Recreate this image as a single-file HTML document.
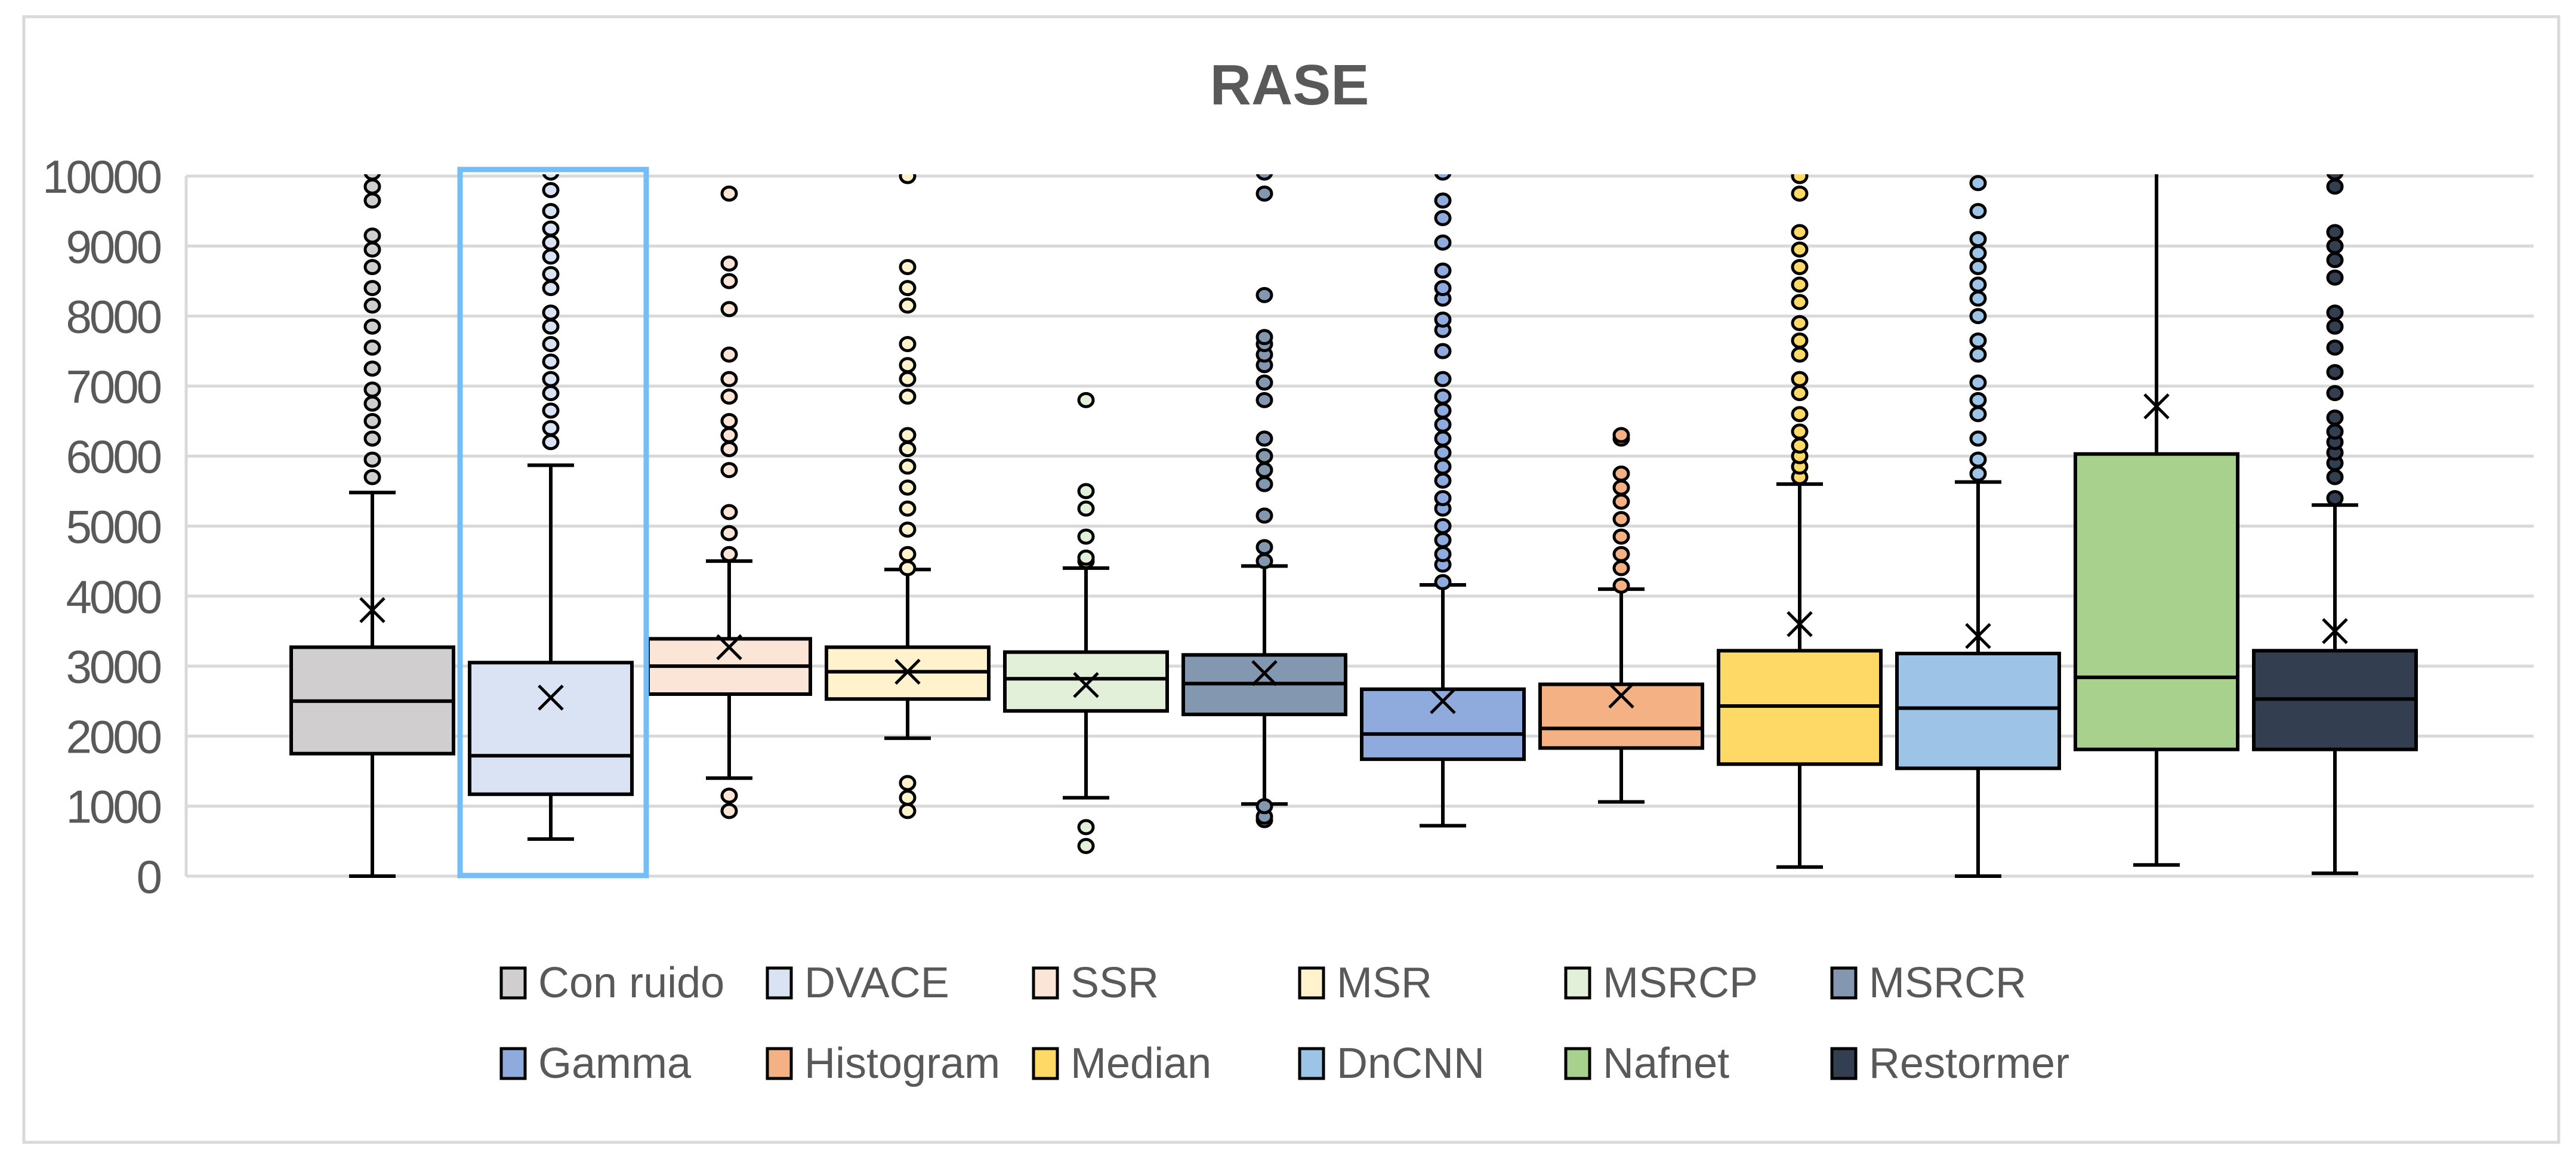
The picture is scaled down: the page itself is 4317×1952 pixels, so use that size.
<!DOCTYPE html>
<html><head><meta charset="utf-8"><style>
html,body{margin:0;padding:0;background:#fff;}
svg{display:block;font-family:"Liberation Sans",sans-serif;}
</style></head><body>
<svg id="chart" width="4317" height="1952" viewBox="0 0 4317 1952" xmlns="http://www.w3.org/2000/svg">
<rect x="40" y="28" width="4248" height="1886" fill="#fff" stroke="#d9d9d9" stroke-width="5"/>
<text x="2161" y="175" text-anchor="middle" font-size="96" font-weight="bold" fill="#595959">RASE</text>
<g id="grid"></g>
<g id="yticks"></g>
<defs><clipPath id="pc"><rect x="300" y="292" width="3960" height="1200"/></clipPath></defs>
<g id="boxes" clip-path="url(#pc)"></g>
<rect x="771" y="284" width="312" height="1183" fill="none" stroke="#74bdf7" stroke-width="9"/>
<g id="legend"></g>
</svg>
<script>
const categories=["Con ruido","DVACE","SSR","MSR","MSRCP","MSRCR","Gamma","Histogram","Median","DnCNN","Nafnet","Restormer"];
const colors=["#d0cece","#dae3f3","#fbe5d6","#fff2cc","#e2f0d9","#8497b0","#8faadc","#f4b183","#ffd966","#9dc3e6","#a9d18e","#333f50"];
const mins=[0,530,1400,1970,1120,1030,720,1060,130,0,160,40];
const q1s=[1750,1170,2600,2530,2360,2310,1670,1830,1600,1540,1810,1810];
const medians=[2500,1720,3000,2920,2820,2750,2030,2110,2430,2400,2840,2530];
const q3s=[3270,3050,3390,3270,3200,3160,2670,2740,3220,3180,6030,3220];
const maxs=[5480,5870,4500,4380,4400,4430,4160,4100,5600,5630,10500,5300];
const means=[3800,2550,3270,2920,2730,2900,2500,2580,3600,3430,6710,3500];
const outliers=[
[5700,5950,6250,6500,6750,6950,7250,7550,7850,8150,8400,8700,8950,9150,9650,9850,10050],
[6200,6400,6650,6900,7100,7350,7600,7850,8050,8400,8600,8850,9050,9250,9500,9800,10050],
[930,1150,4600,4900,5200,5800,6100,6300,6500,6850,7100,7450,8100,8500,8750,9750],
[930,1120,1330,4400,4600,4950,5250,5550,5850,6100,6300,6850,7100,7300,7600,8150,8400,8700,10000],
[430,700,4500,4550,4850,5250,5500,6800],
[800,850,1000,4500,4700,5150,5600,5800,6000,6250,6800,7050,7300,7450,7600,7700,8300,9750,10050],
[4200,4450,4600,4800,5000,5250,5400,5650,5850,6050,6250,6450,6650,6850,7100,7500,7800,7950,8250,8400,8650,9050,9400,9650,10050],
[4150,4400,4600,4850,5100,5350,5550,5750,6250,6300],
[5700,5850,6000,6150,6350,6600,6900,7100,7450,7650,7900,8200,8450,8700,8950,9200,9750,10000],
[5750,5950,6250,6600,6800,7050,7450,7650,8000,8250,8450,8700,8900,9100,9500,9900],
[],
[5400,5700,5900,6050,6200,6350,6550,6900,7200,7550,7850,8050,8550,8800,9000,9200,9850,10050]];
const yTicks=[0,1000,2000,3000,4000,5000,6000,7000,8000,9000,10000];
const NS="http://www.w3.org/2000/svg";
function y(v){return 1468-(v/10000)*1173;}
function x(i){return 624+i*299;}
function mk(tag,attrs,parent){const e=document.createElementNS(NS,tag);for(const k in attrs)e.setAttribute(k,attrs[k]);parent.appendChild(e);return e;}
const grid=document.getElementById('grid'),yt=document.getElementById('yticks'),bx=document.getElementById('boxes'),lg=document.getElementById('legend');
yTicks.forEach(t=>{
  const l=mk('line',{x1:312,x2:4246,y1:y(t),y2:y(t),stroke:'#d9d9d9','stroke-width':5},grid);
  
  
  const tx=mk('text',{x:268,y:y(t)+28,'text-anchor':'end','font-size':78,fill:'#595959','letter-spacing':-4},yt);
  tx.textContent=t;
  
  
});
mk('line',{x1:312,x2:312,y1:y(10000),y2:y(0),stroke:'#d9d9d9','stroke-width':5},grid);
categories.forEach((c,i)=>{
  const g=mk('g',{},bx);
  
  
  const cx=x(i),hw=136,cw=39,st={stroke:'#000','stroke-width':6};
  mk('line',Object.assign({x1:cx,x2:cx,y1:y(maxs[i]),y2:y(q3s[i])},st),g);
  mk('line',Object.assign({x1:cx,x2:cx,y1:y(q1s[i]),y2:y(mins[i])},st),g);
  mk('line',Object.assign({x1:cx-cw,x2:cx+cw,y1:y(maxs[i]),y2:y(maxs[i])},st),g);
  mk('line',Object.assign({x1:cx-cw,x2:cx+cw,y1:y(mins[i]),y2:y(mins[i])},st),g);
  mk('rect',Object.assign({x:cx-hw,y:y(q3s[i]),width:2*hw,height:y(q1s[i])-y(q3s[i]),fill:colors[i]},st),g);
  mk('line',Object.assign({x1:cx-hw,x2:cx+hw,y1:y(medians[i]),y2:y(medians[i])},st),g);
  const my=y(means[i]),s=20;
  mk('path',{d:`M${cx-s},${my-s}L${cx+s},${my+s}M${cx-s},${my+s}L${cx+s},${my-s}`,stroke:'#000','stroke-width':5},g);
  outliers[i].forEach(v=>{
    const o=mk('ellipse',{cx:cx,cy:y(v),rx:12,ry:11,fill:colors[i],stroke:'#000','stroke-width':5},g);
    
    
  });
});
categories.forEach((c,i)=>{
  const col=i%6,row=Math.floor(i/6);
  const lx=840+col*446,ly=1646+row*135;
  const g=mk('g',{},lg);
  
  
  mk('rect',{x:lx,y:ly-24,width:40,height:50,fill:colors[i],stroke:'#000','stroke-width':5},g);
  const t=mk('text',{x:lx+62,y:ly+25,'font-size':72,fill:'#595959'},g);
  t.textContent=c;
});
</script>
</body></html>
